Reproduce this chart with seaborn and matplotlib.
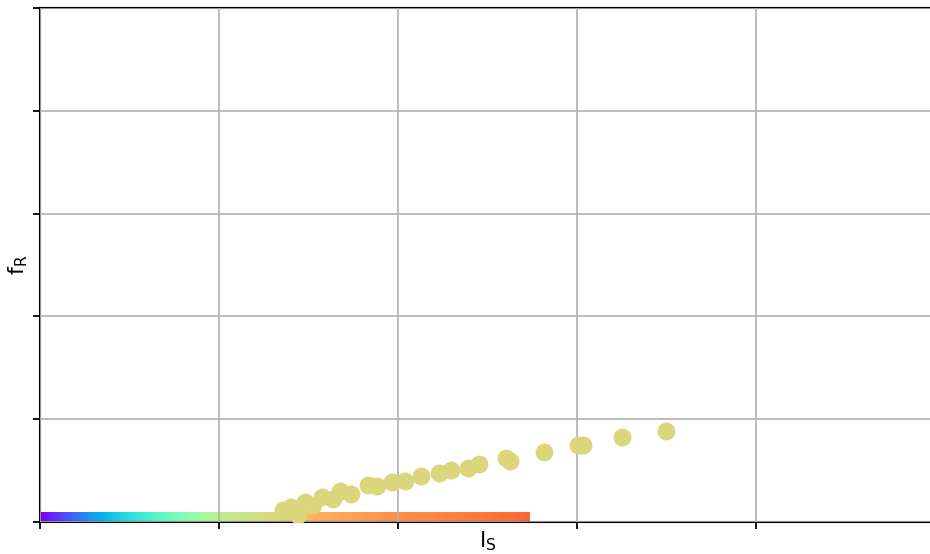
import numpy as np
import pandas as pd
import matplotlib
matplotlib.use("Agg")
import matplotlib.pyplot as plt
import seaborn as sns

# Measured points
l_s = [1.358, 1.402, 1.441, 1.480, 1.525, 1.575, 1.637, 1.676, 1.737, 1.832,
       1.883, 1.966, 2.039, 2.128, 2.229, 2.296, 2.391, 2.453, 2.603, 2.626,
       2.816, 3.006, 3.034, 3.251, 3.497]
f_r = [0.116, 0.145, 0.068, 0.193, 0.164, 0.242, 0.222, 0.300, 0.271, 0.358,
       0.348, 0.387, 0.397, 0.445, 0.474, 0.503, 0.522, 0.561, 0.619, 0.590,
       0.677, 0.745, 0.745, 0.822, 0.890]

# Colour band along the l_S axis: stop positions (fraction of band length)
# and the rainbow colormap value at each stop
band_end = 2.737
band_height = 0.097
band_stops = [0.0, 0.078, 0.124, 0.261, 0.365, 0.506, 0.567, 0.735, 0.959, 1.0]
band_values = [0.0, 0.15, 0.25, 0.45, 0.62, 0.69, 0.76, 0.81, 0.855, 0.87]

x_ticks = [0, 1, 2, 3, 4, 5]
y_ticks = [0, 1, 2, 3, 4, 5]

sns.set_style("white")
plt.rcParams["mathtext.fontset"] = "dejavusans"

fig = plt.figure(figsize=(9.3, 5.54), dpi=100)
ax = fig.add_axes([40 / 930, 32 / 554, 895 / 930, 514 / 554])

df = pd.DataFrame({"l_S": l_s, "f_R": f_r})

samples = np.linspace(0, 1, 512)
band = np.interp(samples, band_stops, band_values)
ax.imshow(band[None, :], cmap="rainbow", vmin=0, vmax=1,
          extent=[0, band_end, 0, band_height],
          aspect="auto", zorder=0.5, interpolation="bilinear")

sns.scatterplot(data=df, x="l_S", y="f_R", ax=ax, color="#dbd67c",
                s=165, linewidth=0, zorder=3)

ax.set_xlim(0, 5)
ax.set_ylim(0, 5)
ax.set_xticks(x_ticks)
ax.set_yticks(y_ticks)
ax.set_xticklabels([])
ax.set_yticklabels([])
ax.grid(True, color="#b0b0b0", linewidth=1.2)
ax.set_axisbelow(False)
for line in ax.get_xgridlines() + ax.get_ygridlines():
    line.set_zorder(1)

for side in ["left", "bottom", "top", "right"]:
    ax.spines[side].set_visible(True)
    ax.spines[side].set_color("black")
    ax.spines[side].set_linewidth(1.5)
ax.tick_params(axis="both", direction="out", length=5, width=1.3,
               color="black", bottom=True, left=True, pad=0)

ax.set_xlabel(r"$\mathrm{l_S}$", fontsize=16, labelpad=0, color="black")
ax.set_ylabel(r"$\mathrm{f_R}$", fontsize=16, labelpad=0, color="black")
ax.xaxis.set_label_coords(0.5, -0.015)
ax.yaxis.set_label_coords(-0.011, 0.5)

fig.savefig("out.png", dpi=100)
